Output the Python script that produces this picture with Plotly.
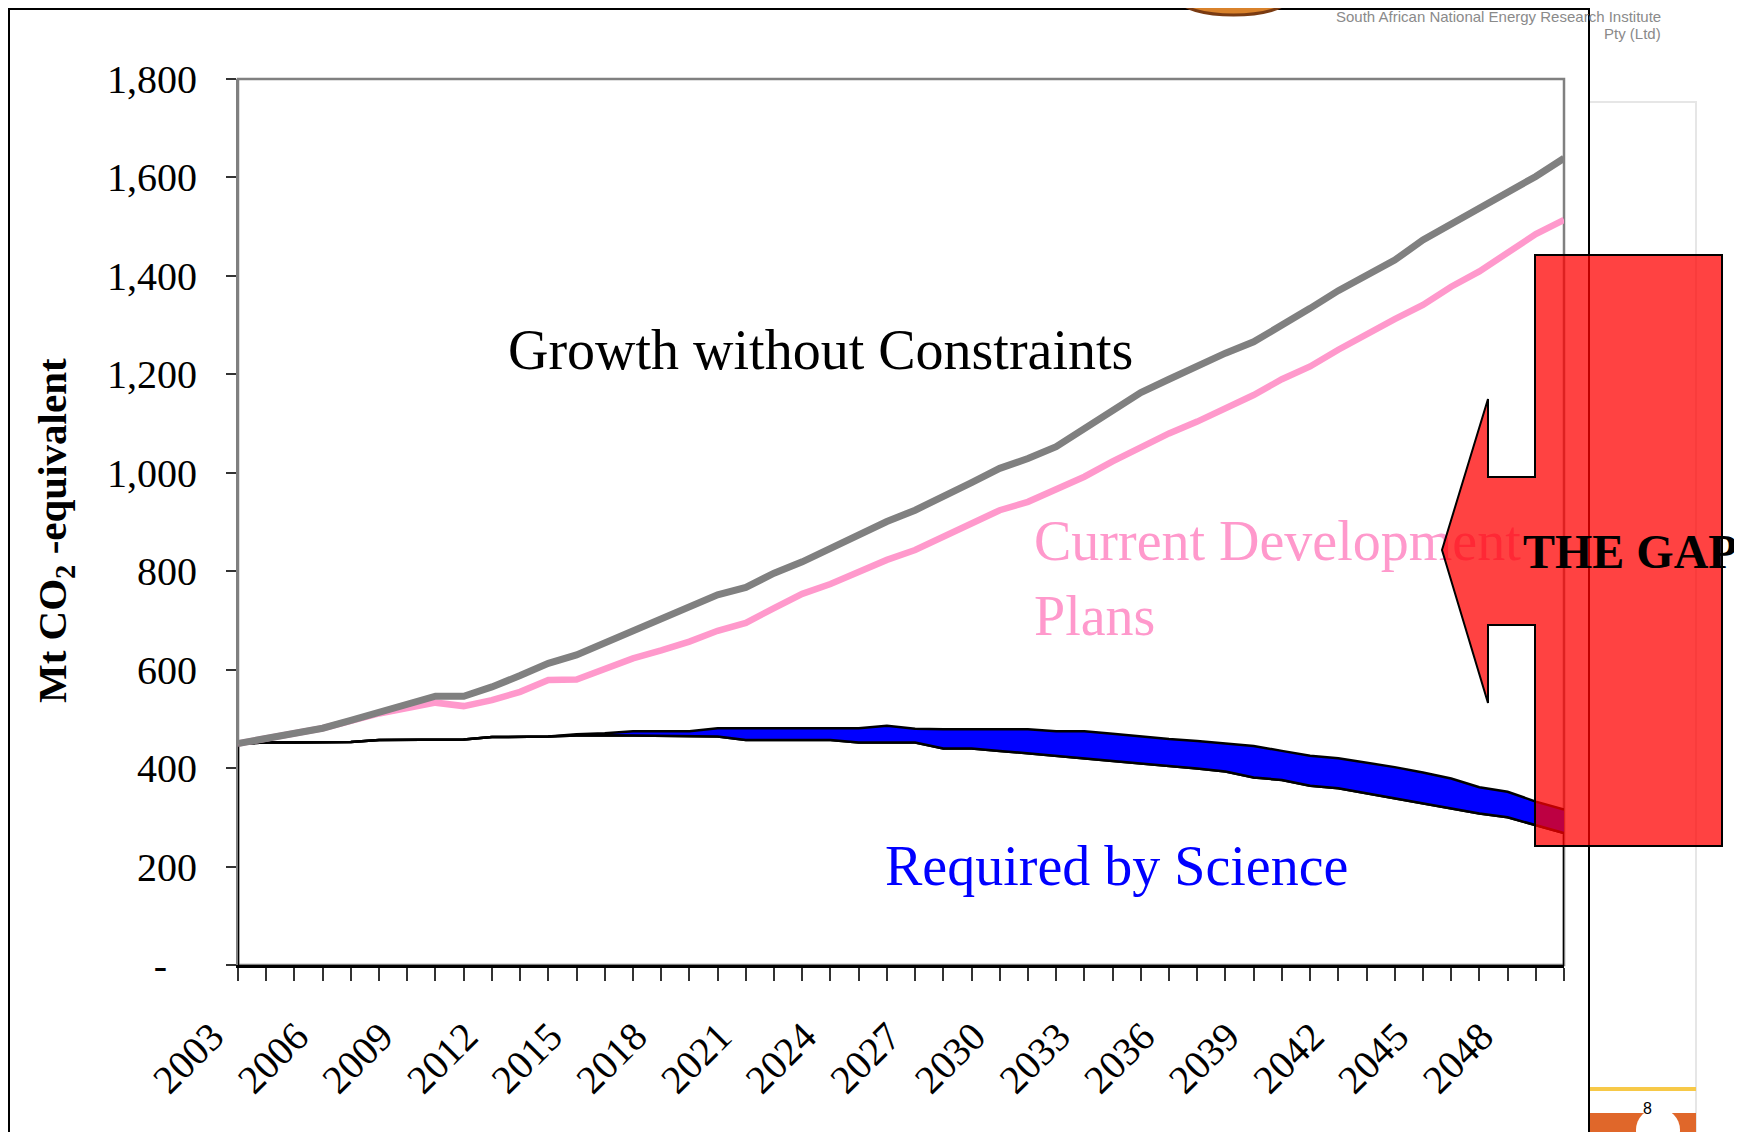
import plotly.graph_objects as go

# ---------------- data ----------------
years = list(range(2003, 2051))

growth_without_constraints = [
    450, 460, 471, 481, 497, 513, 530, 546, 546, 565,
    588, 613, 630, 654, 679, 701, 725, 752, 767, 796,
    819, 847, 874, 901, 924, 951, 980, 1009, 1029, 1053,
    1090, 1128, 1163, 1190, 1217, 1243, 1266, 1298, 1334, 1370,
    1400, 1432, 1473, 1505, 1538, 1568, 1602, 1639]

current_development_plans = [
    450, 460, 471, 481, 496, 511, 522, 533, 526, 538,
    555, 579, 580, 601, 623, 639, 657, 679, 695, 725,
    754, 774, 799, 823, 843, 869, 897, 924, 941, 965,
    992, 1023, 1053, 1080, 1104, 1130, 1158, 1190, 1216, 1250,
    1282, 1312, 1341, 1378, 1409, 1446, 1485, 1514]

required_by_science_upper = [
    450, 452, 452, 453, 453, 457, 457, 458, 458, 463,
    463, 464, 469, 471, 475, 475, 475, 481, 481, 481,
    481, 481, 481, 486, 480, 479, 479, 479, 479, 475,
    475, 470, 464, 459, 455, 450, 445, 435, 425, 420,
    411, 402, 391, 379, 361, 352, 332, 316]

required_by_science_lower = [
    450, 452, 452, 453, 453, 457, 457, 458, 458, 463,
    463, 464, 466, 467, 466, 465, 465, 464, 457, 457,
    457, 457, 452, 452, 452, 440, 440, 435, 430, 425,
    420, 415, 410, 405, 399, 393, 381, 376, 364, 359,
    349, 339, 328, 318, 308, 300, 284, 268]

y_tick_values = [0, 200, 400, 600, 800, 1000, 1200, 1400, 1600, 1800]
y_tick_labels = ["-\u00a0\u00a0\u00a0", "200", "400", "600", "800",
                 "1,000", "1,200", "1,400", "1,600", "1,800"]
x_tick_years = list(range(2003, 2049, 3))
x_tick_labels = [str(y) for y in x_tick_years]

# ---------------- layout geometry (screen pixels) ----------------
WIN_W, WIN_H = 1742, 1132
OFF = 8                      # default body margin of the page
FIG_W, FIG_H = WIN_W - OFF, WIN_H - OFF
L, R, T, B = 238, 1564, 79, 965   # plot area in screen pixels
PW, PH = R - L, B - T

def px(x):
    return (x - L) / PW

def py(y):
    return (B - y) / PH

def to_year(x):
    return years[0] + (x - L) / PW * (years[-1] - years[0])

def to_value(y):
    return (B - y) / PH * 1800

SERIF = "Liberation Serif, Times New Roman, serif"
SANS = "Liberation Sans Narrow, Liberation Sans, sans-serif"

fig = go.Figure()

# outline of the lower area (with vertical edges down to zero)
fig.add_trace(go.Scatter(
    x=[years[0]] + years + [years[-1]],
    y=[0] + required_by_science_lower + [0],
    mode="lines", line=dict(color="black", width=2.5),
    hoverinfo="skip", showlegend=False))

# band: lower boundary then filled upper boundary
fig.add_trace(go.Scatter(
    x=years, y=required_by_science_lower, mode="lines",
    line=dict(color="black", width=2.5), showlegend=False, name="lower"))
fig.add_trace(go.Scatter(
    x=years, y=required_by_science_upper, mode="lines", fill="tonexty",
    fillcolor="#0000FF", line=dict(color="black", width=2.5),
    showlegend=False, name="Required by Science"))

fig.add_trace(go.Scatter(
    x=years, y=current_development_plans, mode="lines",
    line=dict(color="#FF99CC", width=6.5), showlegend=False,
    name="Current Development Plans"))
fig.add_trace(go.Scatter(
    x=years, y=growth_without_constraints, mode="lines",
    line=dict(color="#808080", width=7), showlegend=False,
    name="Growth without Constraints"))

# label drawn as a text trace so that the arrow can sit above it
fig.add_trace(go.Scatter(
    x=[to_year(1034), to_year(1034)], y=[to_value(546), to_value(621)],
    mode="text", text=["Current Development", "Plans"],
    textposition="middle right",
    textfont=dict(family=SERIF, size=56, color="#FF99CC"),
    cliponaxis=False, hoverinfo="skip", showlegend=False))

shapes = []
# slide background pieces
shapes.append(dict(type="rect", xref="paper", yref="paper", layer="below",
                   x0=px(1500), x1=px(1696), y0=py(102), y1=py(1140),
                   fillcolor="rgba(0,0,0,0)", line=dict(color="#e6e6e6", width=2)))
shapes.append(dict(type="line", xref="paper", yref="paper", layer="below",
                   x0=px(-5), x1=px(1696), y0=py(1089), y1=py(1089),
                   line=dict(color="#f7c948", width=4)))
shapes.append(dict(type="rect", xref="paper", yref="paper", layer="below",
                   x0=px(-5), x1=px(1696), y0=py(1113), y1=py(1140),
                   fillcolor="#e0672a", line=dict(width=0)))
shapes.append(dict(type="circle", xref="paper", yref="paper", layer="below",
                   x0=px(1636), x1=px(1680), y0=py(1108), y1=py(1152),
                   fillcolor="white", line=dict(width=0)))
# chart box (white, black border)
shapes.append(dict(type="rect", xref="paper", yref="paper", layer="below",
                   x0=px(9), x1=px(1589), y0=py(9), y1=py(1145),
                   fillcolor="white", line=dict(color="black", width=2)))
# logo fragment peeking in at the top
shapes.append(dict(type="circle", xref="paper", yref="paper", layer="below",
                   x0=px(1180), x1=px(1287), y0=py(-16), y1=py(15),
                   fillcolor="#d9822b", line=dict(color="#7a3b12", width=3)))
# plot frame (grey top / right)
shapes.append(dict(type="rect", xref="paper", yref="paper", layer="below",
                   x0=0, x1=1, y0=0, y1=1,
                   fillcolor="rgba(0,0,0,0)", line=dict(color="#808080", width=2.5)))

# red "gap" arrow
arrow_pts = [(1535, 255), (1722, 255), (1722, 846), (1535, 846), (1535, 625),
             (1488, 625), (1488, 703), (1442, 550), (1488, 399), (1488, 477),
             (1535, 477)]
path = "M " + " L ".join(f"{px(a):.5f},{py(b):.5f}" for a, b in arrow_pts) + " Z"
shapes.append(dict(type="path", xref="paper", yref="paper", layer="above",
                   path=path, fillcolor="rgba(255,0,0,0.74)",
                   line=dict(color="black", width=2)))

annotations = [
    dict(text="Growth without Constraints", x=px(506), y=py(350),
         xref="paper", yref="paper", xanchor="left", yanchor="middle",
         showarrow=False, font=dict(family=SERIF, size=56, color="black")),
    dict(text="Required by Science", x=px(883), y=py(866),
         xref="paper", yref="paper", xanchor="left", yanchor="middle",
         showarrow=False, font=dict(family=SERIF, size=56, color="#0000FF")),
    dict(text="<b>THE GAP</b>", x=px(1521), y=py(551),
         xref="paper", yref="paper", xanchor="left", yanchor="middle",
         showarrow=False, font=dict(family=SERIF, size=48, color="black")),
    dict(text="<b>Mt CO<sub>2</sub> -equivalent</b>", x=px(55), y=py(531),
         xref="paper", yref="paper", xanchor="center", yanchor="middle",
         textangle=-90, showarrow=False,
         font=dict(family=SERIF, size=41, color="black")),
    dict(text="South African National Energy Research Institute", x=px(1663), y=py(17),
         xref="paper", yref="paper", xanchor="right", yanchor="middle",
         showarrow=False, font=dict(family=SANS, size=15, color="#8a8a8a")),
    dict(text="Pty (Ltd)", x=px(1663), y=py(33),
         xref="paper", yref="paper", xanchor="right", yanchor="middle",
         showarrow=False, font=dict(family=SANS, size=15, color="#8a8a8a")),
    dict(text="8", x=px(1647), y=py(1108),
         xref="paper", yref="paper", xanchor="center", yanchor="middle",
         showarrow=False, font=dict(family="Liberation Sans, sans-serif",
                                    size=16, color="black")),
]

fig.update_layout(
    width=FIG_W, height=FIG_H, autosize=False,
    margin=dict(l=L - OFF, r=WIN_W - R, t=T - OFF, b=WIN_H - B, pad=0),
    paper_bgcolor="white", plot_bgcolor="white",
    showlegend=False,
    shapes=shapes, annotations=annotations,
    font=dict(family=SERIF, color="black"),
)

fig.update_xaxes(
    range=[years[0], years[-1]], showgrid=False, zeroline=False,
    showline=True, linecolor="black", linewidth=3,
    tickmode="array", tickvals=x_tick_years, ticktext=x_tick_labels,
    tickangle=-45, ticks="outside", ticklen=13, tickwidth=1.5, tickcolor="#333333",
    ticklabelstandoff=16, ticklabelshift=-26,
    minor=dict(dtick=1, tick0=years[0], ticks="outside", ticklen=13,
               tickwidth=1.5, tickcolor="#333333", showgrid=False),
    tickfont=dict(family=SERIF, size=40, color="black"),
)
fig.update_yaxes(
    range=[0, 1800], showgrid=False, zeroline=False,
    showline=True, linecolor="#808080", linewidth=2,
    tickmode="array", tickvals=y_tick_values, ticktext=y_tick_labels,
    ticks="outside", ticklen=10, tickwidth=1.5, tickcolor="#333333",
    ticklabelstandoff=21,
    tickfont=dict(family=SERIF, size=40, color="black"),
)

fig.write_html("out.html")
